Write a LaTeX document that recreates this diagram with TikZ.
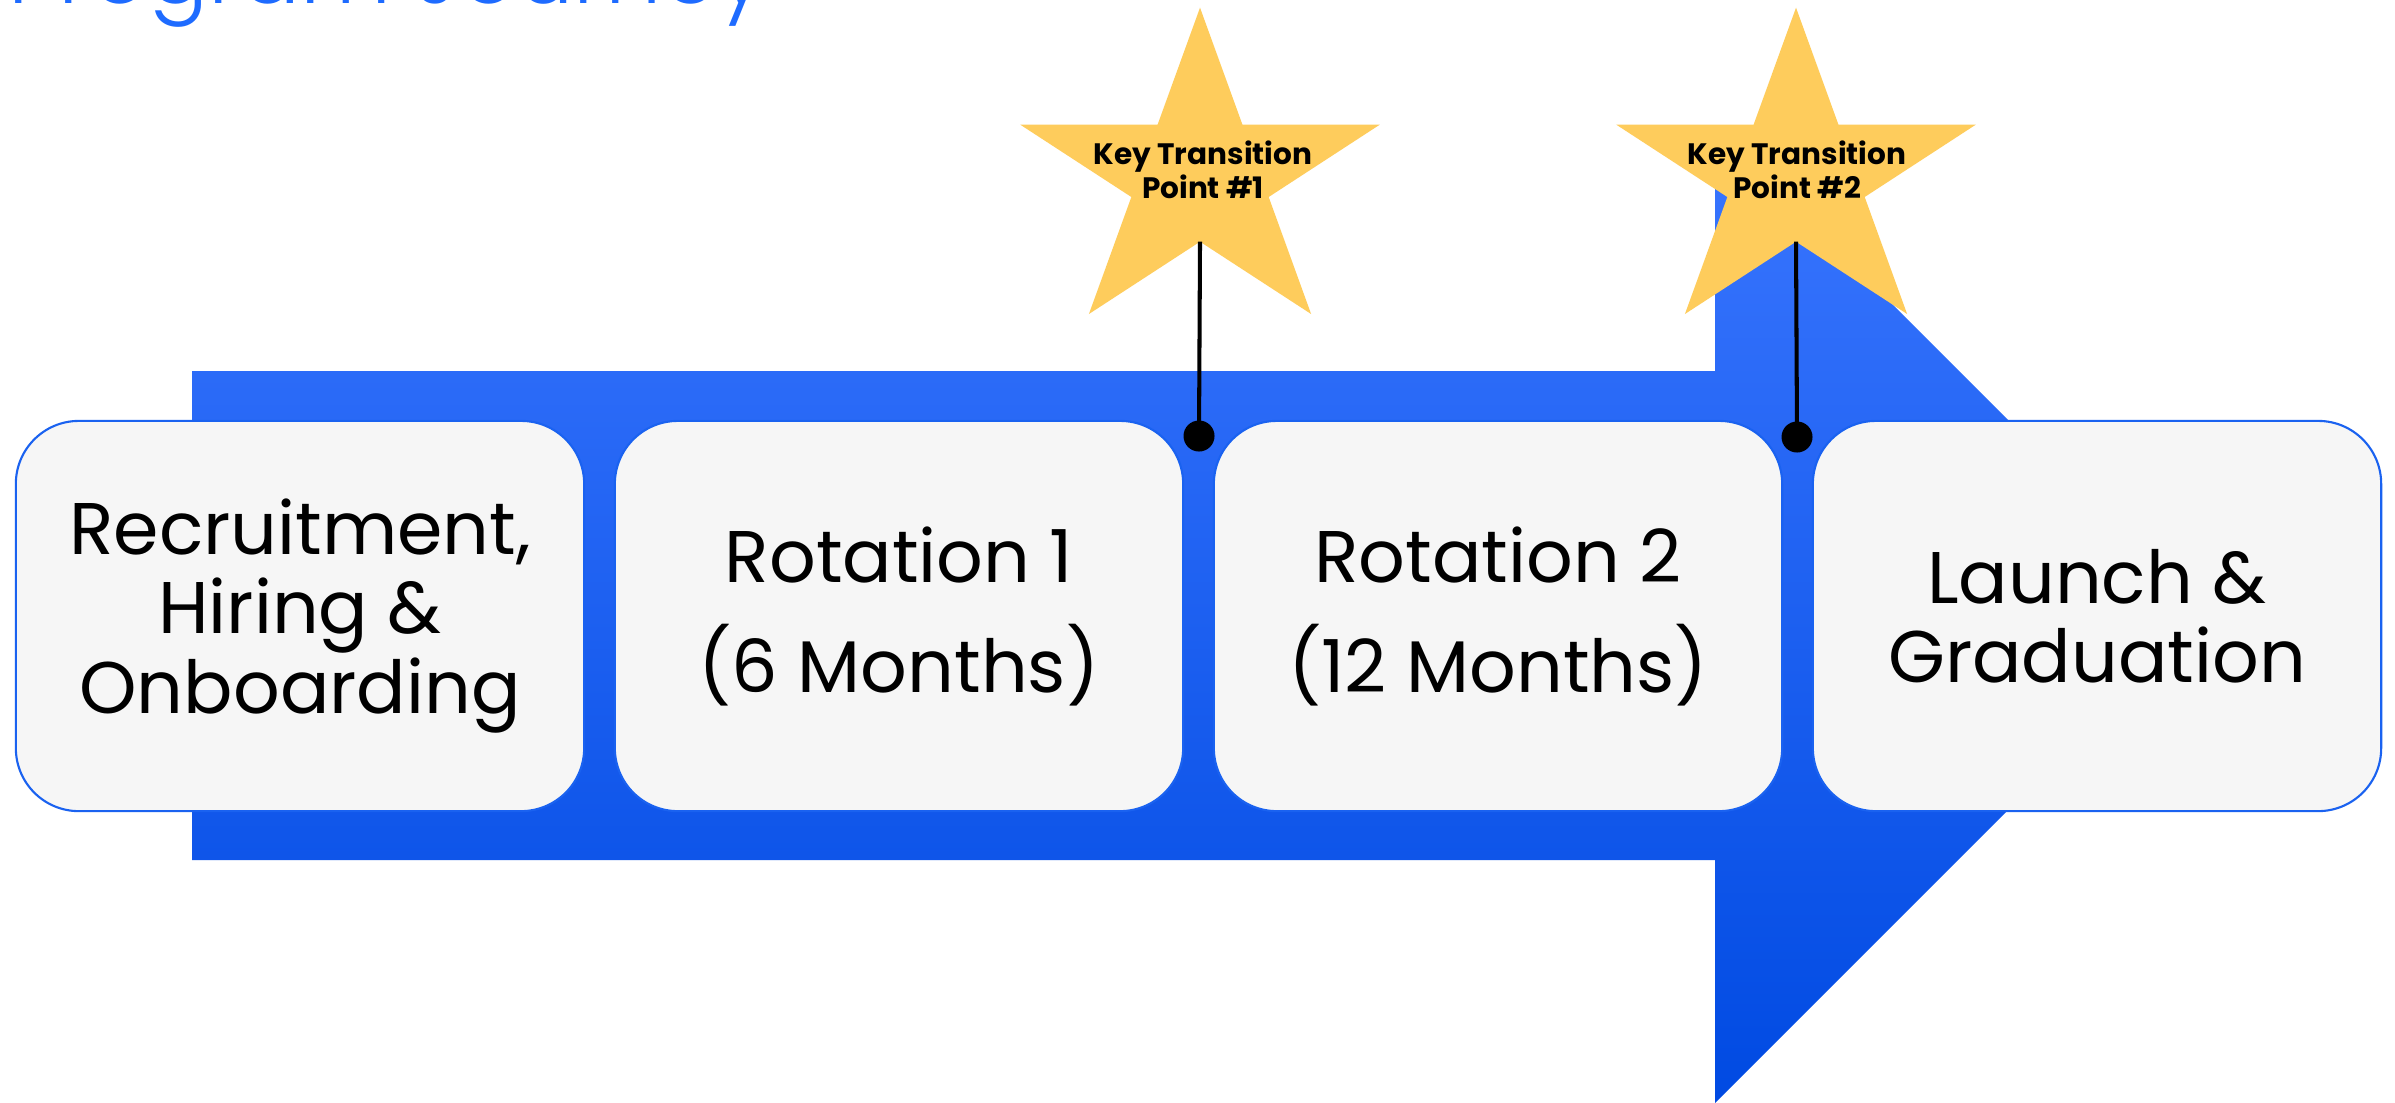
\documentclass[tikz,border=0pt]{standalone}
\usepackage{fontspec}
\setmainfont{Poppins}
\newfontfamily\titlefont{Poppins Light}
\definecolor{starfill}{HTML}{FECC5C}
\definecolor{boxfill}{HTML}{F6F6F6}
\definecolor{boxline}{RGB}{26,98,240}
\definecolor{titleblue}{RGB}{30,107,255}
\definecolor{arrtop}{RGB}{58,118,255}
\definecolor{arrmid}{RGB}{2,88,255}
\definecolor{arrbot}{RGB}{0,74,226}
\begin{document}
\begin{tikzpicture}[x=0.01cm,y=-0.01cm,
  phasebox/.style={draw=boxline, line width=0.6pt, fill=boxfill,
    rounded corners=0.63cm, minimum width=5.68cm, minimum height=3.9cm,
    align=center, inner sep=0pt, text=black},
  tightlines/.style={font=\fontsize{20.8}{22.5}\selectfont},
  looselines/.style={font=\fontsize{20.8}{31.3}\selectfont},
  startext/.style={align=center, inner sep=0pt, text=black,
    font=\bfseries\fontsize{8.4}{9.7}\selectfont},
  pindot/.style={circle, fill=black, inner sep=0pt, minimum size=0.31cm},
  pinline/.style={draw=black, line width=1.15pt},
  starpoly/.style={fill=starfill}
]
\useasboundingbox (0,0) rectangle (2395,1102);
\clip (0,0) rectangle (2395,1102);
\fill[white] (0,0) rectangle (2395,1102);

% big arrow
\shade[top color=arrtop, middle color=arrmid, bottom color=arrbot]
  (192,371) -- (1715,371) -- (1715,127) -- (2203,615) -- (1715,1103)
  -- (1715,860) -- (192,860) -- cycle;

% phase boxes
\node[phasebox, tightlines] (b1) at (300,616) {Recruitment,\\Hiring \&\\Onboarding};
\node[phasebox, looselines] (b2) at (899,616) {Rotation 1\\(6 Months)};
\node[phasebox, looselines] (b3) at (1498,616) {Rotation 2\\(12 Months)};
\node[phasebox, tightlines] (b4) at (2097,616) {Launch \&\\Graduation};

% stars
\begin{scope}[shift={(1200,177)}, yscale=-0.896]
  \fill[starpoly] (90:189) -- (126:72.2) -- (162:189) -- (198:72.2) -- (234:189)
    -- (270:72.2) -- (306:189) -- (342:72.2) -- (18:189) -- (54:72.2) -- cycle;
  \coordinate (s1b) at (270:72.2);
\end{scope}
\begin{scope}[shift={(1796,177)}, yscale=-0.896]
  \fill[starpoly] (90:189) -- (126:72.2) -- (162:189) -- (198:72.2) -- (234:189)
    -- (270:72.2) -- (306:189) -- (342:72.2) -- (18:189) -- (54:72.2) -- cycle;
  \coordinate (s2b) at (270:72.2);
\end{scope}

% pins
\node[pindot] (d1) at (1199,436) {};
\node[pindot] (d2) at (1797,437) {};
\draw[pinline] (s1b) -- (d1.center);
\draw[pinline] (s2b) -- (d2.center);

% star labels
\node[startext] (k1) at (1203,170) {Key Transition\\Point \#1};
\node[startext] (k2) at (1797,170) {Key Transition\\Point \#2};

% title (cut off by the top edge)
\node[anchor=base west, inner sep=0pt, text=titleblue,
  font=\titlefont\fontsize{25.3}{29}\selectfont] (title) at (8,3) {Program Journey};
\end{tikzpicture}
\end{document}
